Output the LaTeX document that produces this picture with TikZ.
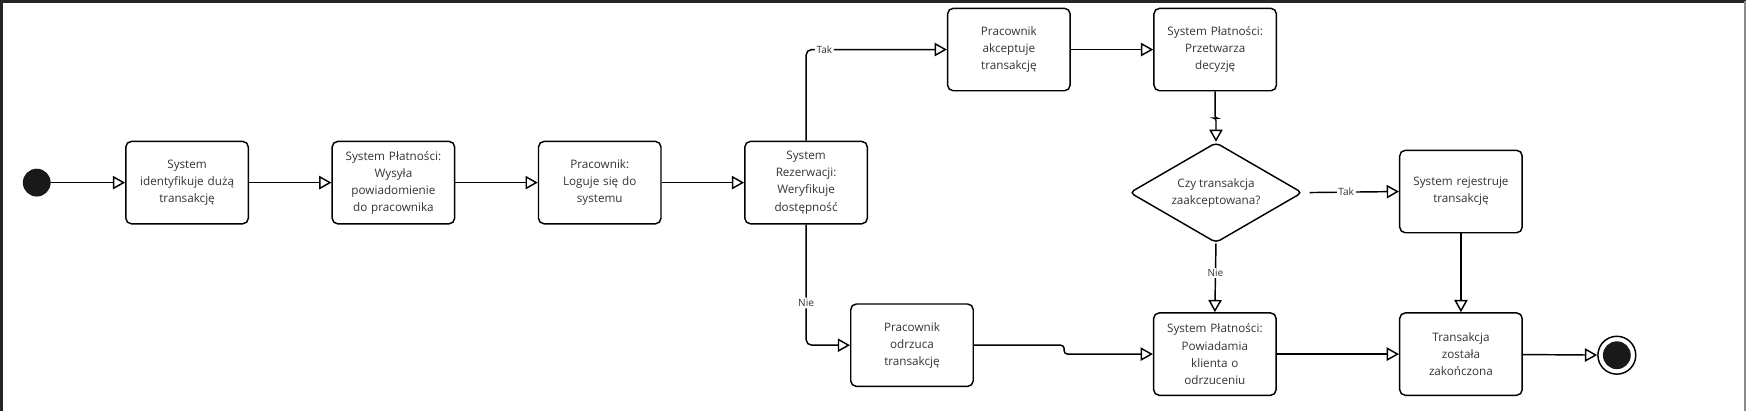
\documentclass[tikz,border=0pt]{standalone}
\usepackage{fontspec}
\setmainfont{Open Sans}
\usetikzlibrary{positioning, arrows.meta, shapes.geometric, calc}

\tikzset{
    activity/.style={draw, line width=1.3pt, rounded corners=5pt, minimum width=110pt,
        minimum height=74pt, align=center, text width=104pt, inner sep=0pt,
        font=\fontsize{10.5}{15.3}\selectfont, text=black!80},
    decision/.style={draw, diamond, line width=1.3pt, rounded corners=4pt, minimum width=155pt,
        minimum height=90pt, aspect=1.72, align=center, inner sep=0pt,
        font=\fontsize{10.5}{15.3}\selectfont, text=black!80},
    flow/.style={line width=1.3pt, -{Triangle[open, length=11pt, width=12pt, line width=1.3pt]}},
    guard/.style={fill=white, inner sep=1.5pt, font=\fontsize{9}{10}\selectfont, text=black!80}
}

\begin{document}
\begin{tikzpicture}[x=1pt, y=-1pt]
    \useasboundingbox (0,0) rectangle (1568,369);
    \draw[black!85, line width=2.5pt] (1,369) -- (1,1) -- (1568,1);
    \draw[black!45, line width=1.5pt] (1567,1) -- (1567,369);

    \node[circle, fill=black!90, minimum size=25pt, inner sep=0pt] (start) at (33,164) {};
    \node[activity] (identify) at (168,164) {System\\identyfikuje dużą\\transakcję};
    \node[activity, right=74pt of identify] (notify) {System Płatności:\\Wysyła\\powiadomienie\\do pracownika};
    \node[activity, right=74pt of notify] (login) {Pracownik:\\Loguje się do\\systemu};
    \node[activity, right=74pt of login] (verify) {System\\Rezerwacji:\\Weryfikuje\\dostępność};
    \node[activity] (accept) at (906,44.5) {Pracownik\\akceptuje\\transakcję};
    \node[activity, right=74pt of accept] (process) {System Płatności:\\Przetwarza\\decyzję};
    \node[decision] (check) at (1092,173) {Czy transakcja\\zaakceptowana?};
    \node[activity] (record) at (1312,172) {System rejestruje\\transakcję};
    \node[activity] (reject) at (819,310) {Pracownik\\odrzuca\\transakcję};
    \node[activity] (inform) at (1091,318) {System Płatności:\\Powiadamia\\klienta o\\odrzuceniu};
    \node[activity] (done) at (1312,318) {Transakcja\\została\\zakończona};
    \node[circle, draw, line width=1.3pt, minimum size=34pt, inner sep=0pt] (stop) at (1452,319) {};
    \node[circle, fill=black!90, minimum size=25pt, inner sep=0pt] at (stop) {};

    \draw[flow] (start) -- (identify);
    \draw[flow] (identify) -- (notify);
    \draw[flow] (notify) -- (login);
    \draw[flow] (login) -- (verify);
    \draw[flow, rounded corners=5pt] (verify.north) |- node[guard, pos=0.565] {Tak} (accept.west);
    \draw[flow, rounded corners=5pt] (verify.south) |- node[guard, pos=0.325] {Nie} (reject.west);
    \draw[flow] (accept) -- (process);
    \draw[flow, rounded corners=2pt] (process.south) -- ++(0,24) -| (check.north);
    \draw[flow, shorten <=6pt] (check.east) -- node[guard, pos=0.45] {Tak} (record.west);
    \draw[flow] (check.south) -- node[guard, pos=0.43] {Nie} (inform.north);
    \draw[flow, rounded corners=3pt] (reject.east) -- ++(81,0) |- (inform.west);
    \draw[flow] (record) -- (done);
    \draw[flow] (inform) -- (done);
    \draw[flow] (done) -- (stop);
\end{tikzpicture}
\end{document}
